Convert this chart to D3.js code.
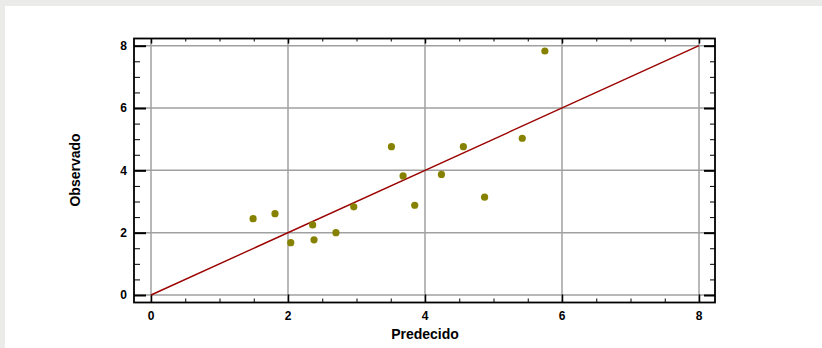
<!DOCTYPE html>
<html>
<head>
<meta charset="utf-8">
<script src="https://cdn.jsdelivr.net/npm/d3@7"></script>
<style>
  html, body { margin: 0; padding: 0; background: #ffffff; }
  svg { display: block; }
  text { font-family: "Liberation Sans", Arial, sans-serif; font-weight: bold; fill: #000; }
</style>
</head>
<body>
<svg id="chart" width="822" height="348"></svg>
<script>
// Predicted vs observed values
const predecido = [1.49, 1.81, 2.04, 2.36, 2.38, 2.70, 2.96, 3.51, 3.68, 3.85, 4.24, 4.56, 4.87, 5.42, 5.75];
const observado = [2.45, 2.61, 1.68, 2.25, 1.77, 2.00, 2.83, 4.76, 3.82, 2.88, 3.87, 4.76, 3.14, 5.03, 7.83];
const majorTicks = [0, 2, 4, 6, 8];
const minorTicks = d3.range(0, 8.01, 0.5).filter(v => v % 2 !== 0);
const identityLine = [[0, 0], [8, 8]];

const svg = d3.select("#chart");

// Light grey surround of the page
svg.append("rect").attr("x", 0).attr("y", 0).attr("width", 822).attr("height", 348).attr("fill", "#ebebea");
svg.append("rect").attr("x", 5).attr("y", 6).attr("width", 817).attr("height", 342).attr("fill", "#ffffff");

// Plot frame
const frame = { left: 134, top: 38.5, right: 715, bottom: 302.5 };

const x = d3.scaleLinear().domain([0, 8]).range([151, 699]);
const y = d3.scaleLinear().domain([0, 8]).range([295, 45.7]);

// Grid lines at the major ticks
const grid = svg.append("g").attr("stroke", "#a0a0a0").attr("stroke-width", 1.5);
grid.selectAll("line.v").data(majorTicks).join("line")
  .attr("x1", d => x(d)).attr("x2", d => x(d))
  .attr("y1", frame.top).attr("y2", frame.bottom);
grid.selectAll("line.h").data(majorTicks).join("line")
  .attr("y1", d => y(d)).attr("y2", d => y(d))
  .attr("x1", frame.left).attr("x2", frame.right);

// Inward-pointing ticks on all four sides, built from d3 axes
function tickAxis(axisFn, scale, values, size, width, tx, ty) {
  const g = svg.append("g")
    .attr("transform", `translate(${tx},${ty})`)
    .call(axisFn(scale).tickValues(values).tickSize(size).tickFormat(""));
  g.select(".domain").remove();
  g.selectAll(".tick line").attr("stroke", "#000").attr("stroke-width", width);
  return g;
}
// bottom (ticks drawn upward into the plot)
tickAxis(d3.axisTop, x, majorTicks, 8, 1.5, 0, frame.bottom);
tickAxis(d3.axisTop, x, minorTicks, 4, 1, 0, frame.bottom);
// top (downward)
tickAxis(d3.axisBottom, x, majorTicks, 5, 1.5, 0, frame.top);
tickAxis(d3.axisBottom, x, minorTicks, 3, 1, 0, frame.top);
// left (rightward)
tickAxis(d3.axisRight, y, majorTicks, 12, 2, frame.left, 0);
tickAxis(d3.axisRight, y, minorTicks, 6, 1, frame.left, 0);
// right (leftward)
tickAxis(d3.axisLeft, y, majorTicks, 11, 2, frame.right, 0);
tickAxis(d3.axisLeft, y, minorTicks, 5, 1, frame.right, 0);

// Frame border
svg.append("rect")
  .attr("x", frame.left).attr("y", frame.top)
  .attr("width", frame.right - frame.left).attr("height", frame.bottom - frame.top)
  .attr("fill", "none").attr("stroke", "#000").attr("stroke-width", 1.8);

// Tick labels
svg.append("g").selectAll("text").data(majorTicks).join("text")
  .attr("x", d => x(d)).attr("y", 320)
  .attr("text-anchor", "middle").attr("font-size", 12)
  .text(d => d);
svg.append("g").selectAll("text").data(majorTicks).join("text")
  .attr("x", 127).attr("y", d => y(d)).attr("dy", "0.36em")
  .attr("text-anchor", "end").attr("font-size", 12)
  .text(d => d);

// Axis titles
svg.append("text").attr("x", 425).attr("y", 339)
  .attr("text-anchor", "middle").attr("font-size", 14).text("Predecido");
svg.append("text").attr("transform", "translate(80,170) rotate(-90)")
  .attr("text-anchor", "middle").attr("font-size", 14).text("Observado");

// Identity line y = x
svg.append("path")
  .datum(identityLine)
  .attr("d", d3.line().x(d => x(d[0])).y(d => y(d[1])))
  .attr("fill", "none").attr("stroke", "#9b0000").attr("stroke-width", 1.4);

// Points
svg.append("g").selectAll("circle").data(predecido).join("circle")
  .attr("cx", d => x(d)).attr("cy", (d, i) => y(observado[i]))
  .attr("r", 3.6).attr("fill", "#868200");
</script>
</body>
</html>
